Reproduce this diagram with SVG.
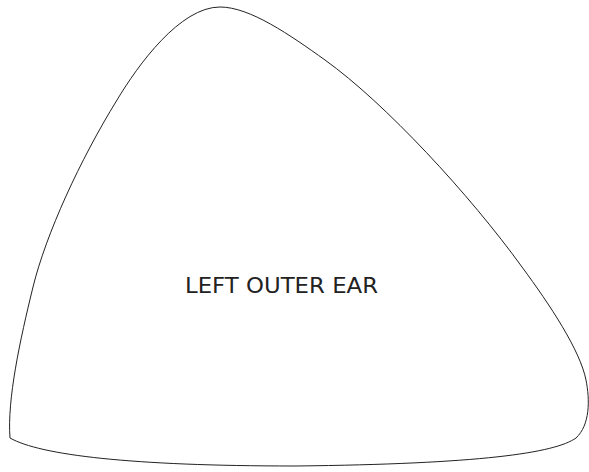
<svg xmlns="http://www.w3.org/2000/svg" width="589" height="472" viewBox="0 0 589 472">
<style>
.shape{fill:#ffffff;stroke:#222222;stroke-width:1}
.label{font-family:"DejaVu Sans","Verdana",sans-serif;font-size:21px;fill:#222222}
</style>
<rect x="0" y="0" width="589" height="472" fill="#ffffff"/>
<g id="left-outer-ear">
<path class="shape" d="M10,438 C7,400 20,340 33,287 C46,234 80,160 117,100 C138,65 180,7 220,7 C250,7 290,35 325,60 C385,103 470,195 522,267 C550,305 580,350 586,380 C590,400 590,425 576,438 C555,453 480,464 295,466 C130,466 40,455 10,438 Z"/>
<text class="label" x="281.5" y="293" text-anchor="middle" textLength="193" lengthAdjust="spacingAndGlyphs">LEFT OUTER EAR</text>
</g>
<g id="connectors"></g>
</svg>
